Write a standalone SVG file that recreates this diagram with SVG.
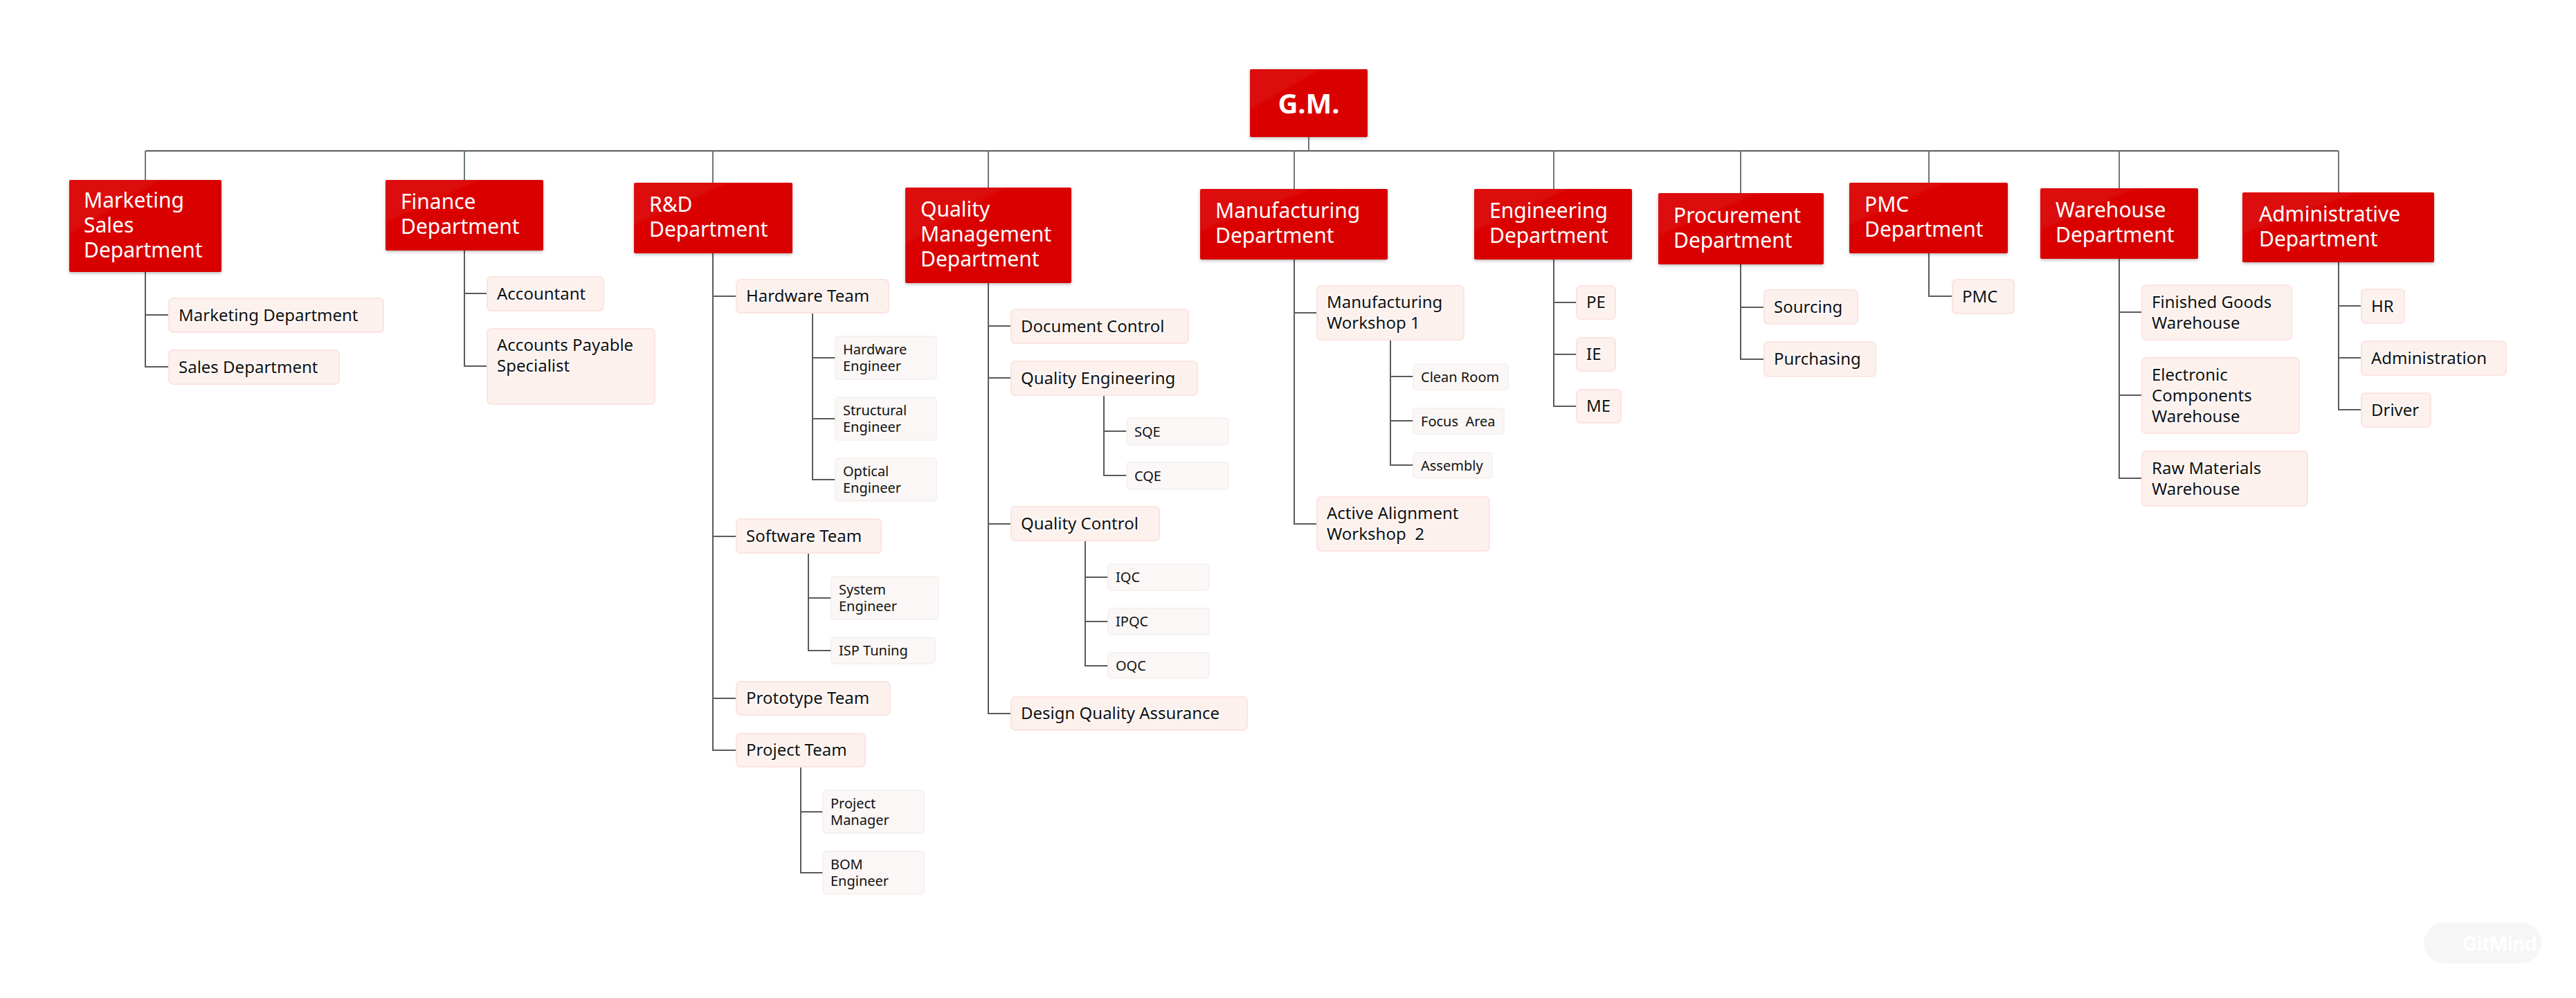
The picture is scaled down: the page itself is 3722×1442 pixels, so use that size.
<svg xmlns="http://www.w3.org/2000/svg" width="3722" height="1442" viewBox="0 0 3722 1442">
<defs>
  <filter id="sh" x="-10%" y="-10%" width="120%" height="130%">
    <feDropShadow dx="0" dy="2" stdDeviation="2" flood-color="#000" flood-opacity="0.25"/>
  </filter>
  <linearGradient id="red" x1="0" y1="0" x2="1" y2="1">
    <stop offset="0" stop-color="#de1010"/>
    <stop offset="0.5" stop-color="#d90000"/>
    <stop offset="1" stop-color="#d80000"/>
  </linearGradient>
</defs>
<style>
  .l1 rect { fill: url(#red); filter: url(#sh); }
  .l1 text { fill: #ffffff; font-family: "Noto Sans", "Open Sans", sans-serif; font-size: 30px; }
  .gm text { font-size: 40px; font-weight: bold; }
  .l2 rect { fill: #fdf1ee; stroke: #fbe4df; stroke-width: 2; }
  .l2 text { fill: #111111; font-family: "Noto Sans", "Open Sans", sans-serif; font-size: 24px; paint-order: stroke; stroke: #ffffff; stroke-width: 3px; stroke-opacity: 0.7; }
  .l3 rect { fill: #faf7f6; stroke: #f4efed; stroke-width: 1.5; }
  .l3 text { fill: #111111; font-family: "Noto Sans", "Open Sans", sans-serif; font-size: 20px; }
  .conn path { fill: none; stroke: #5a5a5a; stroke-width: 2; }
  .conn .top { stroke: #6e7878; }
</style>
<rect x="0" y="0" width="3722" height="1442" fill="#ffffff"/>

<g id="connectors" class="conn">
  <path d="M210,218 H3379"/>
  <path class="top" d="M1891,198 V218"/>
  <path class="top" d="M210,218 V260 M671,218 V260 M1030,218 V264 M1428,218 V271 M1870,218 V273 M2245,218 V273 M2515,218 V279 M2787,218 V264 M3062,218 V272 M3379,218 V278"/>
  <path d="M210,393 V530 H244 M210,455 H244"/>
  <path d="M671,362 V529 H704 M671,424 H704"/>
  <path d="M1030,366 V1084 H1064 M1030,428 H1064 M1030,775 H1064 M1030,1009 H1064"/>
  <path d="M1174,452 V693 H1207 M1174,517 H1207 M1174,605 H1207"/>
  <path d="M1168,799 V940 H1201 M1168,864 H1201"/>
  <path d="M1157,1108 V1261 H1189 M1157,1173 H1189"/>
  <path d="M1428,409 V1031 H1461 M1428,471 H1461 M1428,546 H1461 M1428,757 H1461"/>
  <path d="M1595,571 V687 H1628 M1595,623 H1628"/>
  <path d="M1568,781 V962 H1601 M1568,834 H1601 M1568,898 H1601"/>
  <path d="M1870,375 V757 H1903 M1870,452 H1903"/>
  <path d="M2009,491 V672 H2042 M2009,544 H2042 M2009,608 H2042"/>
  <path d="M2245,375 V587 H2278 M2245,437 H2278 M2245,512 H2278"/>
  <path d="M2515,382 V519 H2549 M2515,444 H2549"/>
  <path d="M2787,366 V428 H2821"/>
  <path d="M3062,374 V691 H3095 M3062,451 H3095 M3062,571 H3095"/>
  <path d="M3379,379 V592 H3412 M3379,442 H3412 M3379,517 H3412"/>
</g>

<g id="gm" class="l1 gm"><rect x="1806" y="100" width="170" height="98" rx="2"/><text x="1891" y="164" text-anchor="middle">G.M.</text></g>

<g id="marketing-sales" class="l1"><rect x="100" y="260" width="220" height="133" rx="2"/><text x="121" y="299.5">Marketing<tspan x="121" dy="36">Sales</tspan><tspan x="121" dy="36">Department</tspan></text></g>
<g id="finance" class="l1"><rect x="557" y="260" width="228" height="102" rx="2"/><text x="579" y="302">Finance<tspan x="579" dy="36">Department</tspan></text></g>
<g id="rnd" class="l1"><rect x="916" y="264" width="229" height="102" rx="2"/><text x="938" y="306">R&amp;D<tspan x="938" dy="36">Department</tspan></text></g>
<g id="quality-mgmt" class="l1"><rect x="1308" y="271" width="240" height="138" rx="2"/><text x="1330" y="313">Quality<tspan x="1330" dy="36">Management</tspan><tspan x="1330" dy="36">Department</tspan></text></g>
<g id="manufacturing" class="l1"><rect x="1734" y="273" width="271" height="102" rx="2"/><text x="1756" y="315">Manufacturing<tspan x="1756" dy="36">Department</tspan></text></g>
<g id="engineering" class="l1"><rect x="2130" y="273" width="228" height="102" rx="2"/><text x="2152" y="315">Engineering<tspan x="2152" dy="36">Department</tspan></text></g>
<g id="procurement" class="l1"><rect x="2396" y="279" width="239" height="103" rx="2"/><text x="2418" y="321.5">Procurement<tspan x="2418" dy="36">Department</tspan></text></g>
<g id="pmc-dept" class="l1"><rect x="2672" y="264" width="229" height="102" rx="2"/><text x="2694" y="306">PMC<tspan x="2694" dy="36">Department</tspan></text></g>
<g id="warehouse-dept" class="l1"><rect x="2948" y="272" width="228" height="102" rx="2"/><text x="2970" y="314">Warehouse<tspan x="2970" dy="36">Department</tspan></text></g>
<g id="admin-dept" class="l1"><rect x="3240" y="278" width="277" height="101" rx="2"/><text x="3264" y="319.5">Administrative<tspan x="3264" dy="36">Department</tspan></text></g>

<g id="marketing-department" class="l2"><rect x="244" y="431" width="310" height="49" rx="6"/><text x="258" y="463.5">Marketing Department</text></g>
<g id="sales-department" class="l2"><rect x="244" y="506" width="246" height="49" rx="6"/><text x="258" y="538.5">Sales Department</text></g>
<g id="accountant" class="l2"><rect x="704" y="400" width="168" height="49" rx="6"/><text x="718" y="432.5">Accountant</text></g>
<g id="accounts-payable" class="l2"><rect x="704" y="475" width="242" height="109" rx="6"/><text x="718" y="507">Accounts Payable<tspan x="718" dy="30">Specialist</tspan></text></g>

<g id="hardware-team" class="l2"><rect x="1064" y="404" width="220" height="48" rx="6"/><text x="1078" y="436">Hardware Team</text></g>
<g id="hardware-engineer" class="l3"><rect x="1207" y="486" width="146" height="62" rx="4"/><text x="1218" y="512">Hardware<tspan x="1218" dy="24">Engineer</tspan></text></g>
<g id="structural-engineer" class="l3"><rect x="1207" y="574" width="146" height="62" rx="4"/><text x="1218" y="600">Structural<tspan x="1218" dy="24">Engineer</tspan></text></g>
<g id="optical-engineer" class="l3"><rect x="1207" y="662" width="146" height="62" rx="4"/><text x="1218" y="688">Optical<tspan x="1218" dy="24">Engineer</tspan></text></g>
<g id="software-team" class="l2"><rect x="1064" y="750" width="209" height="49" rx="6"/><text x="1078" y="782.5">Software Team</text></g>
<g id="system-engineer" class="l3"><rect x="1201" y="833" width="155" height="62" rx="4"/><text x="1212" y="859">System<tspan x="1212" dy="24">Engineer</tspan></text></g>
<g id="isp-tuning" class="l3"><rect x="1201" y="921" width="150" height="38" rx="4"/><text x="1212" y="947">ISP Tuning</text></g>
<g id="prototype-team" class="l2"><rect x="1064" y="985" width="222" height="48" rx="6"/><text x="1078" y="1017">Prototype Team</text></g>
<g id="project-team" class="l2"><rect x="1064" y="1060" width="186" height="48" rx="6"/><text x="1078" y="1092">Project Team</text></g>
<g id="project-manager" class="l3"><rect x="1189" y="1142" width="146" height="62" rx="4"/><text x="1200" y="1168">Project<tspan x="1200" dy="24">Manager</tspan></text></g>
<g id="bom-engineer" class="l3"><rect x="1189" y="1230" width="146" height="62" rx="4"/><text x="1200" y="1256">BOM<tspan x="1200" dy="24">Engineer</tspan></text></g>

<g id="document-control" class="l2"><rect x="1461" y="447" width="256" height="49" rx="6"/><text x="1475" y="479.5">Document Control</text></g>
<g id="quality-engineering" class="l2"><rect x="1461" y="522" width="269" height="49" rx="6"/><text x="1475" y="554.5">Quality Engineering</text></g>
<g id="sqe" class="l3"><rect x="1628" y="604" width="147" height="39" rx="4"/><text x="1639" y="630.5">SQE</text></g>
<g id="cqe" class="l3"><rect x="1628" y="668" width="147" height="39" rx="4"/><text x="1639" y="694.5">CQE</text></g>
<g id="quality-control" class="l2"><rect x="1461" y="732" width="214" height="49" rx="6"/><text x="1475" y="764.5">Quality Control</text></g>
<g id="iqc" class="l3"><rect x="1601" y="815" width="146" height="38" rx="4"/><text x="1612" y="841">IQC</text></g>
<g id="ipqc" class="l3"><rect x="1601" y="879" width="146" height="38" rx="4"/><text x="1612" y="905">IPQC</text></g>
<g id="oqc" class="l3"><rect x="1601" y="943" width="146" height="37" rx="4"/><text x="1612" y="968.5">OQC</text></g>
<g id="design-qa" class="l2"><rect x="1461" y="1007" width="341" height="48" rx="6"/><text x="1475" y="1039">Design Quality Assurance</text></g>

<g id="workshop-1" class="l2"><rect x="1903" y="413" width="212" height="78" rx="6"/><text x="1917" y="445">Manufacturing<tspan x="1917" dy="30">Workshop 1</tspan></text></g>
<g id="clean-room" class="l3"><rect x="2042" y="526" width="137" height="37" rx="4"/><text x="2053" y="551.5">Clean Room</text></g>
<g id="focus-area" class="l3"><rect x="2042" y="590" width="131" height="37" rx="4"/><text x="2053" y="615.5">Focus&#160; Area</text></g>
<g id="assembly" class="l3"><rect x="2042" y="654" width="114" height="37" rx="4"/><text x="2053" y="679.5">Assembly</text></g>
<g id="workshop-2" class="l2"><rect x="1903" y="718" width="249" height="78" rx="6"/><text x="1917" y="750">Active Alignment<tspan x="1917" dy="30">Workshop&#160; 2</tspan></text></g>

<g id="pe" class="l2"><rect x="2278" y="413" width="56" height="48" rx="6"/><text x="2292" y="445">PE</text></g>
<g id="ie" class="l2"><rect x="2278" y="488" width="56" height="48" rx="6"/><text x="2292" y="520">IE</text></g>
<g id="me" class="l2"><rect x="2278" y="563" width="64" height="48" rx="6"/><text x="2292" y="595">ME</text></g>

<g id="sourcing" class="l2"><rect x="2549" y="419" width="135" height="49" rx="6"/><text x="2563" y="451.5">Sourcing</text></g>
<g id="purchasing" class="l2"><rect x="2549" y="494" width="161" height="50" rx="6"/><text x="2563" y="527">Purchasing</text></g>

<g id="pmc" class="l2"><rect x="2821" y="404" width="89" height="49" rx="6"/><text x="2835" y="436.5">PMC</text></g>

<g id="finished-goods" class="l2"><rect x="3095" y="412" width="216" height="79" rx="6"/><text x="3109" y="444.5">Finished Goods<tspan x="3109" dy="30">Warehouse</tspan></text></g>
<g id="electronic-components" class="l2"><rect x="3095" y="517" width="227" height="109" rx="6"/><text x="3109" y="549.5">Electronic<tspan x="3109" dy="30">Components</tspan><tspan x="3109" dy="30">Warehouse</tspan></text></g>
<g id="raw-materials" class="l2"><rect x="3095" y="652" width="239" height="79" rx="6"/><text x="3109" y="684.5">Raw Materials<tspan x="3109" dy="30">Warehouse</tspan></text></g>

<g id="hr" class="l2"><rect x="3412" y="418" width="62" height="49" rx="6"/><text x="3426" y="450.5">HR</text></g>
<g id="administration" class="l2"><rect x="3412" y="493" width="209" height="49" rx="6"/><text x="3426" y="525.5">Administration</text></g>
<g id="driver" class="l2"><rect x="3412" y="568" width="100" height="49" rx="6"/><text x="3426" y="600.5">Driver</text></g>

<g id="watermark">
  <rect x="3502" y="1333" width="170" height="59" rx="29.5" fill="#f6f6f6"/>
  <text x="3558" y="1374" fill="#ffffff" font-family="Inter, 'Noto Sans', sans-serif" font-size="28" font-weight="bold">GitMind</text>
</g>
</svg>
